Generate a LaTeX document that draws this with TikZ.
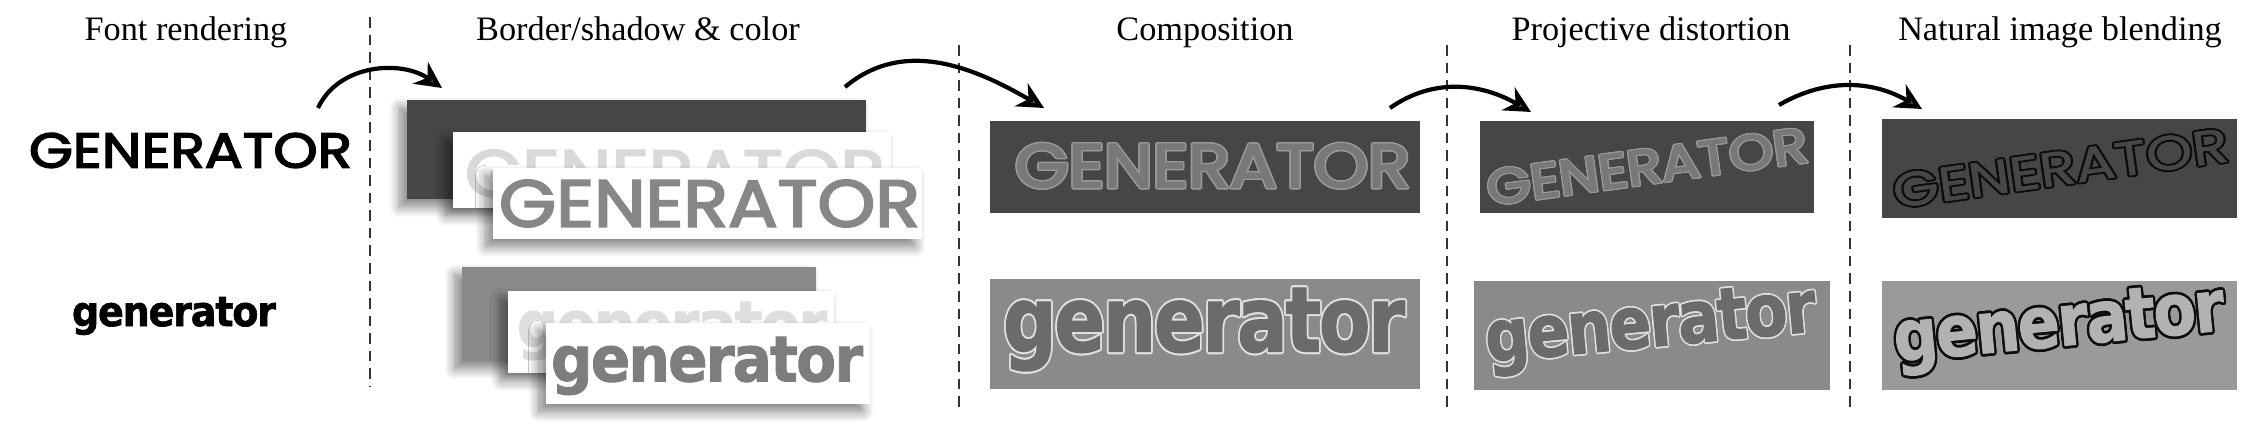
\documentclass[tikz,border=0pt]{standalone}
\usepackage{fontspec,graphicx,xcolor}
\usepackage[copies]{contour}
\usetikzlibrary{arrows.meta, shadows.blur}
\setmainfont{Liberation Serif}
\newfontfamily\logocaps[FakeBold=3]{Poppins}
\newfontfamily\logothin[FakeBold=1]{Poppins}
\newfontfamily\logolower[FakeBold=1.6,LetterSpace=-3]{DejaVu Sans Bold}
\newcommand{\fitword}[3]{\resizebox*{#1}{#2}{#3}}
\definecolor{panelDark}{HTML}{464646}
\definecolor{panelMid}{HTML}{8A8A8A}
\definecolor{panelNat}{HTML}{9A9A9A}
\contourlength{0.22pt}

\begin{document}
\begin{tikzpicture}[x=0.1mm, y=0.1mm, >={Stealth[length=7.5pt, width=7.5pt]},
    title/.style={anchor=base, font=\fontsize{9.75}{11}\selectfont},
    word/.style={inner sep=0pt, outer sep=0pt},
    divider/.style={densely dashed, line width=0.3pt, black!80},
    flow/.style={->, line width=1.2pt},
    soft/.style={blur shadow={shadow xshift=-2pt, shadow yshift=-2.2pt, shadow blur radius=3pt, shadow blur steps=12, shadow opacity=50}}]
    \useasboundingbox (0,0) rectangle (2252,430);

    % Column titles
    \node[title] (titleFont) at (186,389) {Font rendering};
    \node[title] (titleBorder) at (638,389) {Border/shadow \& color};
    \node[title] (titleComp) at (1205,389) {Composition};
    \node[title] (titleProj) at (1651,389) {Projective distortion};
    \node[title] (titleNat) at (2060,389) {Natural image blending};

    % Column dividers
    \draw[divider] (370,413) -- (370,43);
    \draw[divider] (959,385) -- (959,20);
    \draw[divider] (1447,385) -- (1447,20);
    \draw[divider] (1850,385) -- (1850,20);

    % Font rendering
    \node[word] (fontCaps) at (190.5,279.5) {\fitword{32.3mm}{3.5mm}{\logocaps GENERATOR}};
    \node[word] (fontLower) at (174,114) {\fitword{20.4mm}{3.8mm}{\logolower generator}};

    % Border/shadow and color, upper stack
    \fill[panelDark, soft] (407,231) rectangle (866,330);
    \fill[white, soft] (453,222) rectangle (891,298);
    \node[word, text=black!15] (ghostCaps) at (675,256.5) {\fitword{42mm}{4.7mm}{\logocaps GENERATOR}};
    \fill[white, soft] (493,191) rectangle (922,262);
    \node[word, text=black!47] (frontCaps) at (709.5,226.5) {\fitword{42.1mm}{4.7mm}{\logocaps GENERATOR}};

    % Border/shadow and color, lower stack
    \fill[panelMid, soft] (462,69) rectangle (816,163);
    \fill[white, soft] (508,57) rectangle (834,139);
    \node[word, text=black!13] (ghostLower) at (672,99) {\fitword{31mm}{5.8mm}{\logolower generator}};
    \fill[white, soft] (546,26) rectangle (870,107);
    \node[word, text=black!51] (frontLower) at (707,64) {\fitword{31.2mm}{5.8mm}{\logolower generator}};

    % Composition
    \fill[panelDark] (990,217) rectangle (1420,309);
    \fill[panelMid] (990,41) rectangle (1420,151);
    \node[word, text=black!53] (compCaps) at (1212.5,263.5) {\fitword{39.5mm}{4.5mm}{\logocaps\contour{black!40}{GENERATOR}}};
    \node[word, text=black!58] (compLower) at (1204,99.5) {\fitword{40.2mm}{8.5mm}{\logolower\contour{black!12}{generator}}};

    % Projective distortion
    \fill[panelDark] (1480,217) rectangle (1814,309);
    \fill[panelMid] (1474,40) rectangle (1830,149);
    \node[word, text=black!53, rotate=7.8] (projCaps) at (1647,263) {\fitword{32.3mm}{3.6mm}{\logocaps\contour{black!40}{GENERATOR}}};
    \node[word, text=black!58, rotate=5.4] (projLower) at (1651,100) {\fitword{33.2mm}{6.8mm}{\logolower\contour{black!12}{generator}}};

    % Natural image blending
    \contourlength{0.38pt}
    \fill[panelDark] (1882,212) rectangle (2237,311);
    \fill[panelNat] (1882,40) rectangle (2237,149);
    \node[word, text=black!72, rotate=8] (natCaps) at (2060.5,261) {\fitword{33.8mm}{3.6mm}{\logothin\contour{black!95}{GENERATOR}}};
    \node[word, text=black!30, rotate=5.5] (natLower) at (2059.5,100) {\fitword{33.2mm}{6.8mm}{\logolower\contour{black!95}{generator}}};

    % Step arrows
    \coordinate (fontOut) at (318,322);
    \coordinate (borderIn) at (442,342);
    \coordinate (borderOut) at (845,343);
    \coordinate (compIn) at (1044,322);
    \coordinate (compOut) at (1390,322);
    \coordinate (projIn) at (1531,318);
    \coordinate (projOut) at (1779,325);
    \coordinate (natIn) at (1922,321);
    \draw[flow] (fontOut) to[out=65, in=145] (borderIn);
    \draw[flow] (borderOut) to[out=40, in=150] (compIn);
    \draw[flow] (compOut) to[out=35, in=150] (projIn);
    \draw[flow] (projOut) to[out=30, in=150] (natIn);
\end{tikzpicture}
\end{document}
